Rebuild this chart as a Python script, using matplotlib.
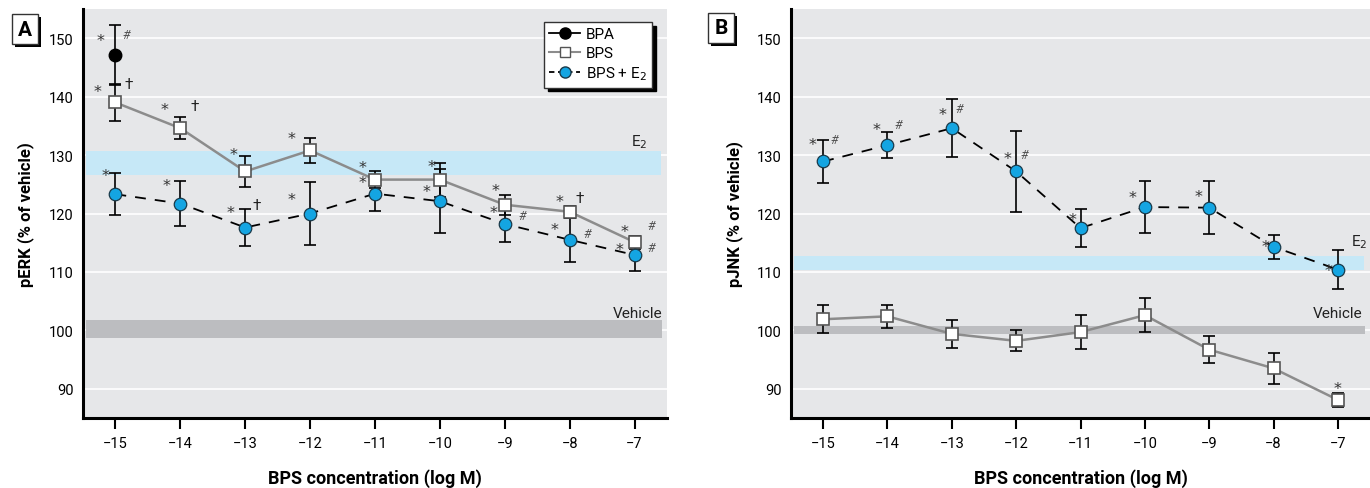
import numpy as np
import matplotlib
matplotlib.use("Agg")
import matplotlib.pyplot as plt
from matplotlib.patches import Rectangle
from matplotlib.lines import Line2D

plt.rcParams['font.family'] = ['Roboto', 'DejaVu Sans']

# log M concentrations
conc = [-15, -14, -13, -12, -11, -10, -9, -8, -7]

# panel A: pERK
bpa_x = [-15]
bpa_a = [147.1]
bpa_a_err = [5.1]
bps_a = [139.0, 134.6, 127.2, 130.8, 125.8, 125.8, 121.5, 120.3, 115.1]
bps_a_err = [3.2, 1.9, 2.7, 2.2, 1.5, 2.9, 1.7, 1.0, 1.1]
e2_a = [123.3, 121.7, 117.6, 120.0, 123.4, 122.1, 118.2, 115.5, 112.9]
e2_a_err = [3.6, 3.8, 3.2, 5.4, 3.0, 5.5, 3.0, 3.8, 2.7]

# panel B: pJNK
bps_b = [101.9, 102.4, 99.4, 98.2, 99.7, 102.6, 96.7, 93.5, 88.1]
bps_b_err = [2.4, 2.0, 2.4, 1.8, 2.9, 2.9, 2.35, 2.6, 1.25]
e2_b = [128.9, 131.7, 134.6, 127.2, 117.5, 121.1, 121.0, 114.3, 110.4]
e2_b_err = [3.6, 2.2, 5.0, 7.0, 3.2, 4.4, 4.5, 2.1, 3.4]

# reference bands (low, high)
e2_band_a = (126.6, 130.7)
veh_band_a = (98.7, 101.7)
e2_band_b = (110.3, 112.7)
veh_band_b = (99.3, 100.7)

# significance marks (x, y, mark)
marks_a = [(-15.23, 150.2, '*'), (-14.83, 150.7, '#'), (-15.28, 141.4, '*'), (-14.8, 142.1, '†'),
           (-14.25, 138.3, '*'), (-13.78, 138.4, '†'),
           (-15.15, 127.0, '*'), (-14.22, 125.3, '*'),
           (-13.18, 130.7, '*'), (-13.22, 120.7, '*'), (-12.82, 121.4, '†'),
           (-12.28, 133.5, '*'), (-12.28, 122.9, '*'),
           (-11.2, 128.5, '*'), (-11.2, 125.9, '*'),
           (-10.13, 128.6, '*'), (-10.2, 124.3, '*'),
           (-9.15, 124.5, '*'), (-9.18, 120.7, '*'), (-8.73, 119.7, '#'),
           (-8.16, 122.6, '*'), (-7.85, 122.6, '†'), (-8.24, 117.9, '*'), (-7.73, 116.6, '#'),
           (-7.15, 117.5, '*'), (-6.75, 117.9, '#'), (-7.23, 114.5, '*'), (-6.75, 114.2, '#')]
marks_b = [(-15.16, 132.4, '*'), (-14.82, 132.7, '#'), (-14.17, 135.0, '*'), (-13.83, 135.3, '#'),
           (-13.14, 137.6, '*'), (-12.89, 137.9, '#'), (-12.13, 130.0, '*'), (-11.87, 130.1, '#'),
           (-11.13, 119.5, '*'), (-10.19, 123.3, '*'), (-9.16, 123.5, '*'), (-8.13, 114.9, '*'),
           (-7.15, 110.9, '*'), (-7.0, 90.7, '*')]

BG = '#e6e7e9'
BLUE = '#14a5e2'
E2C = '#c6e8f7'
VEHC = '#bcbdc0'
GREYLINE = '#8c8c8c'

W, H = 1370, 489
fig = plt.figure(figsize=(W / 100, H / 100), dpi=100)


def px_axes(l, r, t, b):
    return fig.add_axes([l / W, 1 - b / H, (r - l) / W, (b - t) / H])


def draw_panel(ax, bps, bps_err, e2, e2_err, e2_band, veh_band, marks, ylabel, e2_lab, veh_lab, ylab_x):
    ax.set_facecolor(BG)
    ax.set_xlim(-15.5, -6.5)
    ax.set_ylim(85, 155)
    for v in [90, 100, 110, 120, 130, 140, 150]:
        ax.axhline(v, color='white', lw=1.2, zorder=0.5)
    ax.fill_between([-15.45, -6.6], e2_band[0], e2_band[1], color=E2C, lw=0, zorder=0.8)
    ax.fill_between([-15.45, -6.58], veh_band[0], veh_band[1], color=VEHC, lw=0, zorder=0.8)
    ax.text(e2_lab[0], e2_lab[1], 'E$_2$', ha='center', va='center', fontsize=11, color='#222222')
    ax.text(veh_lab[0], veh_lab[1], 'Vehicle', ha='right', va='center', fontsize=11, color='#222222')

    ax.errorbar(conc, bps, yerr=bps_err, fmt='none', ecolor='black', elinewidth=1.2,
                capsize=4, capthick=1.2, zorder=3)
    ax.plot(conc, bps, color=GREYLINE, lw=1.8, marker='s', ms=8, mfc='white',
            mec='#555555', mew=1.2, zorder=4)
    ax.errorbar(conc, e2, yerr=e2_err, fmt='none', ecolor='black', elinewidth=1.2,
                capsize=4, capthick=1.2, zorder=3)
    ax.plot(conc, e2, color='black', lw=1.3, ls=(0, (6, 5)), marker='o', ms=9,
            mfc=BLUE, mec='#1a3a4a', mew=0.9, zorder=4)

    for x, y, m in marks:
        if m == '*':
            ax.text(x, y - 0.58, m, ha='center', va='center', fontsize=11.5, color='#333333',
                    family='DejaVu Sans', zorder=6)
        elif m == '#':
            ax.text(x, y, m, ha='center', va='center', fontsize=9, color='#555555',
                    style='italic', zorder=6)
        else:
            ax.text(x, y, m, ha='center', va='center', fontsize=11, color='#222222', zorder=6)

    for s in ['top', 'right']:
        ax.spines[s].set_visible(False)
    for s in ['left', 'bottom']:
        ax.spines[s].set_linewidth(2.2)
    ax.set_xticks(conc)
    ax.set_xticklabels(['\u2212%d' % abs(c) for c in conc])
    ax.set_yticks([90, 100, 110, 120, 130, 140, 150])
    ax.tick_params(axis='x', length=8, width=1.5, labelsize=10.5, pad=5)
    ax.tick_params(axis='y', length=0, labelsize=10.5, pad=7)
    ax.set_xlabel('BPS concentration (log M)', fontsize=13, fontweight='bold')
    ax.xaxis.set_label_coords(0.5, -0.122)
    ax.set_ylabel(ylabel, fontsize=12, fontweight='bold')
    ax.yaxis.set_label_coords(ylab_x, 0.5)


def panel_tag(x, y, letter):
    # black drop shadow, then white box
    fig.add_artist(Rectangle(((x + 3) / W, 1 - (y + 33) / H), 26 / W, 30 / H,
                             transform=fig.transFigure, color='black', lw=0))
    fig.add_artist(Rectangle((x / W, 1 - (y + 30) / H), 26 / W, 30 / H,
                             transform=fig.transFigure, facecolor='white', edgecolor='#333333', lw=1))
    fig.text((x + 13) / W, 1 - (y + 15) / H, letter, ha='center', va='center',
             fontsize=15, fontweight='bold')


ax_a = px_axes(83, 667, 10, 419)
draw_panel(ax_a, bps_a, bps_a_err, e2_a, e2_a_err, e2_band_a, veh_band_a, marks_a,
           'pERK (% of vehicle)', (-6.92, 132.3), (-6.57, 102.9), -0.084)
ax_a.errorbar(bpa_x, bpa_a, yerr=bpa_a_err, fmt='o', color='black', ms=9,
              elinewidth=1.2, capsize=4, capthick=1.2, zorder=5)

ax_b = px_axes(791, 1370, 10, 419)
draw_panel(ax_b, bps_b, bps_b_err, e2_b, e2_b_err, e2_band_b, veh_band_b, marks_b,
           'pJNK (% of vehicle)', (-6.67, 115.3), (-6.62, 103.0), -0.083)

handles = [Line2D([], [], color='black', lw=1.3, marker='o', ms=8, mfc='black'),
           Line2D([], [], color=GREYLINE, lw=1.5, marker='s', ms=7, mfc='white', mec='#555555'),
           Line2D([], [], color='black', lw=1.3, ls=(0, (3, 2)), marker='o', ms=8,
                  mfc=BLUE, mec='#1a3a4a')]
leg = ax_a.legend(handles, ['BPA', 'BPS', 'BPS + E$_2$'], loc='upper right',
                  bbox_to_anchor=(0.975, 0.968), borderaxespad=0, fontsize=11,
                  fancybox=False, handlelength=2.0, handletextpad=0.4, labelspacing=0.3,
                  borderpad=0.35,
                  shadow={'ox': 2.5, 'oy': -2.5, 'color': 'black', 'alpha': 1})
leg.get_frame().set_edgecolor('#333333')
leg.get_frame().set_linewidth(1.0)
leg.get_frame().set_alpha(1)

panel_tag(12, 15, 'A')
panel_tag(708, 14, 'B')

fig.savefig('out.png', dpi=100)
